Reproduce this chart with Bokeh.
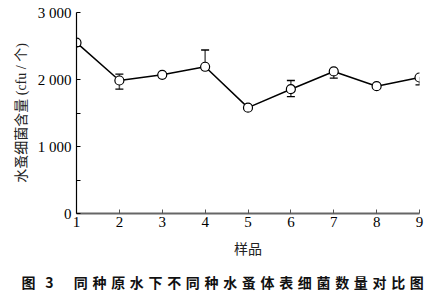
from bokeh.plotting import figure
from bokeh.models import Title, FixedTicker, ColumnDataSource
from bokeh.embed import file_html
from bokeh.resources import INLINE

# ---- data ----
samples = [1, 2, 3, 4, 5, 6, 7, 8, 9]
bacteria = [2550, 1985, 2070, 2190, 1580, 1855, 2120, 1900, 2030]
err_up = [0, 95, 0, 250, 0, 130, 0, 0, 0]
err_low = [0, 130, 0, 0, 0, 110, 100, 0, 110]
y_ticks = [0, 1000, 2000, 3000]
y_tick_labels = ["0", "1 000", "2 000", "3 000"]
x_label = "样品"
y_label = "水蚤细菌含量 (cfu / 个)"
caption = "图\u2002\u20093\u2003\u2005\u2009" + "\u2004".join("同种原水下不同种水蚤体表细菌数量对比图")

SERIF = "Liberation Serif"
CJK = "Noto Sans CJK SC"

p = figure(width=440, height=300, output_backend="svg", toolbar_location=None,
           x_range=(1, 9), y_range=(0, 3000),
           min_border_left=76, min_border_right=21, min_border_top=12, min_border_bottom=10)
p.outline_line_color = None
p.grid.visible = False
p.background_fill_color = "white"
p.border_fill_color = "white"

# error bars
up_x = [s for s, e in zip(samples, err_up) if e > 0]
up_y0 = [v for v, e in zip(bacteria, err_up) if e > 0]
up_y1 = [v + e for v, e in zip(bacteria, err_up) if e > 0]
lo_x = [s for s, e in zip(samples, err_low) if e > 0]
lo_y0 = [v for v, e in zip(bacteria, err_low) if e > 0]
lo_y1 = [v - e for v, e in zip(bacteria, err_low) if e > 0]
p.segment(x0=up_x, y0=up_y0, x1=up_x, y1=up_y1, line_color="#555555", line_width=1.5)
p.segment(x0=lo_x, y0=lo_y0, x1=lo_x, y1=lo_y1, line_color="#555555", line_width=1.5)
p.scatter(x=up_x, y=up_y1, marker="dash", size=8, line_color="black", line_width=1.3)
p.scatter(x=lo_x, y=lo_y1, marker="dash", size=8, line_color="black", line_width=1.3)

src = ColumnDataSource(dict(x=samples, y=bacteria))
p.line("x", "y", source=src, line_color="black", line_width=1.5)
p.scatter("x", "y", source=src, size=9, fill_color="white", line_color="black", line_width=1.2)

# axes
xa = p.xaxis[0]
xa.ticker = FixedTicker(ticks=samples)
xa.major_tick_in = 4
xa.major_tick_out = 0
xa.minor_tick_in = 0
xa.minor_tick_out = 0
xa.axis_line_color = "#666666"
xa.axis_line_width = 2
xa.major_tick_line_color = "#555555"
xa.major_label_text_font = SERIF
xa.major_label_text_font_size = "15px"
xa.major_label_text_color = "black"
xa.major_label_standoff = 3
xa.axis_label = x_label
xa.axis_label_text_font = CJK
xa.axis_label_text_font_size = "14px"
xa.axis_label_text_font_style = "normal"
xa.axis_label_text_color = "#222222"
xa.axis_label_standoff = 8

ya = p.yaxis[0]
ya.ticker = FixedTicker(ticks=y_ticks, minor_ticks=[500, 1500, 2500])
ya.major_label_overrides = {t: l for t, l in zip(y_ticks, y_tick_labels)}
ya.major_tick_in = 4
ya.major_tick_out = 0
ya.minor_tick_in = 4
ya.minor_tick_out = 0
ya.axis_line_color = "black"
ya.axis_line_width = 1.2
ya.major_label_text_font = SERIF
ya.major_label_text_font_size = "15px"
ya.major_label_text_color = "black"
ya.major_label_standoff = 5
ya.axis_label = y_label
ya.axis_label_text_font = "Liberation Serif, Noto Sans CJK SC"
ya.axis_label_text_font_size = "14px"
ya.axis_label_text_font_style = "normal"
ya.axis_label_text_color = "#222222"
ya.axis_label_standoff = 6

cap = Title(text=caption, align="left", offset=-55, standoff=18,
            text_font=CJK, text_font_size="14px", text_font_style="bold",
            text_color="#111111")
p.add_layout(cap, "below")

open("out.html", "w").write(file_html(p, INLINE))
